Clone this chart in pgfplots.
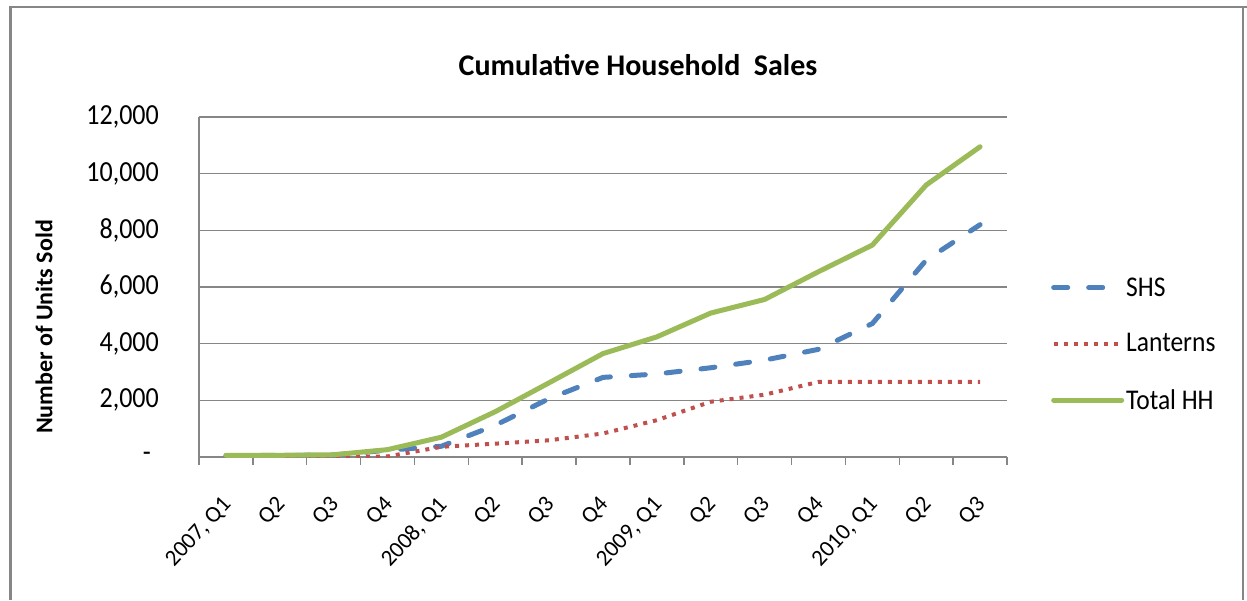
\documentclass[border=0pt]{standalone}
\usepackage{fontspec}
\setmainfont{Carlito}
\usepackage{graphicx}
\usepackage{pgfplots}
\pgfplotsset{compat=1.18}
\definecolor{shs}{HTML}{4F81BD}
\definecolor{lan}{HTML}{C0504D}
\definecolor{tot}{HTML}{9BBB59}
\definecolor{gridc}{HTML}{868686}
\newcommand\vs[1]{\scalebox{1}[1.12]{#1}}
\pgfplotstableread{
i shs lan tot
0 50 0 60
1 55 0 60
2 70 0 80
3 240 20 260
4 380 360 700
5 1120 470 1600
6 2060 590 2620
7 2810 830 3650
8 2930 1300 4240
9 3150 1950 5080
10 3420 2200 5560
11 3800 2650 6540
12 4710 2650 7480
13 6950 2650 9600
14 8200 2650 10950
}\datatable
\begin{document}
\begin{tikzpicture}[x=1pt,y=1pt]
\useasboundingbox (0,0) rectangle (1247,600);
\draw[gridc, line width=1.2pt] (9,593) -- (1247,593);
\draw[gridc, line width=3pt] (10.5,593.6) -- (10.5,0);
\draw[gridc, line width=2.5pt] (1243,593) -- (1243,0);
\node[font=\fontsize{30}{36}\selectfont\bfseries] at (638,535) {Cumulative Household\ \ Sales};
\node[font=\fontsize{24}{28}\selectfont\bfseries, rotate=90] at (44,273) {Number of Units Sold};
\begin{axis}[
  at={(199pt,143pt)}, anchor=south west,
  scale only axis, width=808pt, height=340pt,
  xmin=-0.5, xmax=14.5, ymin=0, ymax=12000,
  scaled y ticks=false,
  axis x line*=bottom, axis y line*=left,
  axis line style={gridc, line width=1.5pt, -},
  tick align=outside,
  major tick length=8pt,
  xtick={-0.5,0.5,...,14.5},
  xticklabels={},
  xtick style={gridc, line width=1.5pt},
  extra x ticks={0,...,14},
  extra x tick labels={{2007, Q1},Q2,Q3,Q4,{2008, Q1},Q2,Q3,Q4,{2009, Q1},Q2,Q3,Q4,{2010, Q1},Q2,Q3},
  extra x tick style={major tick length=0pt, grid=none,
    xticklabel style={font=\fontsize{23}{27}\selectfont, inner sep=0pt, xshift=-5pt, yshift=-38pt, rotate=47, anchor=north east}},
  ytick={0,2000,...,12000},
  yticklabels={{\vs{-}\hspace*{8pt}},\vs{2,000},\vs{4,000},\vs{6,000},\vs{8,000},\vs{10,000},\vs{12,000}},
  ytick style={draw=none},
  yticklabel style={font=\fontsize{26}{30}\selectfont, anchor=east, inner sep=0pt, xshift=-32pt},
  ymajorgrids,
  major grid style={gridc, line width=1.5pt},
  legend style={at={(rel axis cs:1.0507,0.54)}, anchor=north west, draw=none, fill=none,
    font=\fontsize{25.5}{30}\selectfont, row sep=32pt,
    /tikz/every even column/.append style={column sep=4pt}},
  legend cell align=left,
  legend image code/.code={\draw[#1] (0pt,0pt) -- (68pt,0pt);},
]
\addplot[shs, line width=5pt, line cap=round, dash pattern=on 14pt off 21pt] table[x=i, y=shs] {\datatable};
\addlegendentry{\vs{SHS}}
\addplot[lan, line width=4pt, line cap=butt, dash pattern=on 4pt off 6pt] table[x=i, y=lan] {\datatable};
\addlegendentry{\vs{Lanterns}}
\addplot[tot, line width=5pt, line join=round, line cap=round] table[x=i, y=tot] {\datatable};
\addlegendentry{\vs{Total HH}}
\end{axis}
\end{tikzpicture}
\end{document}
